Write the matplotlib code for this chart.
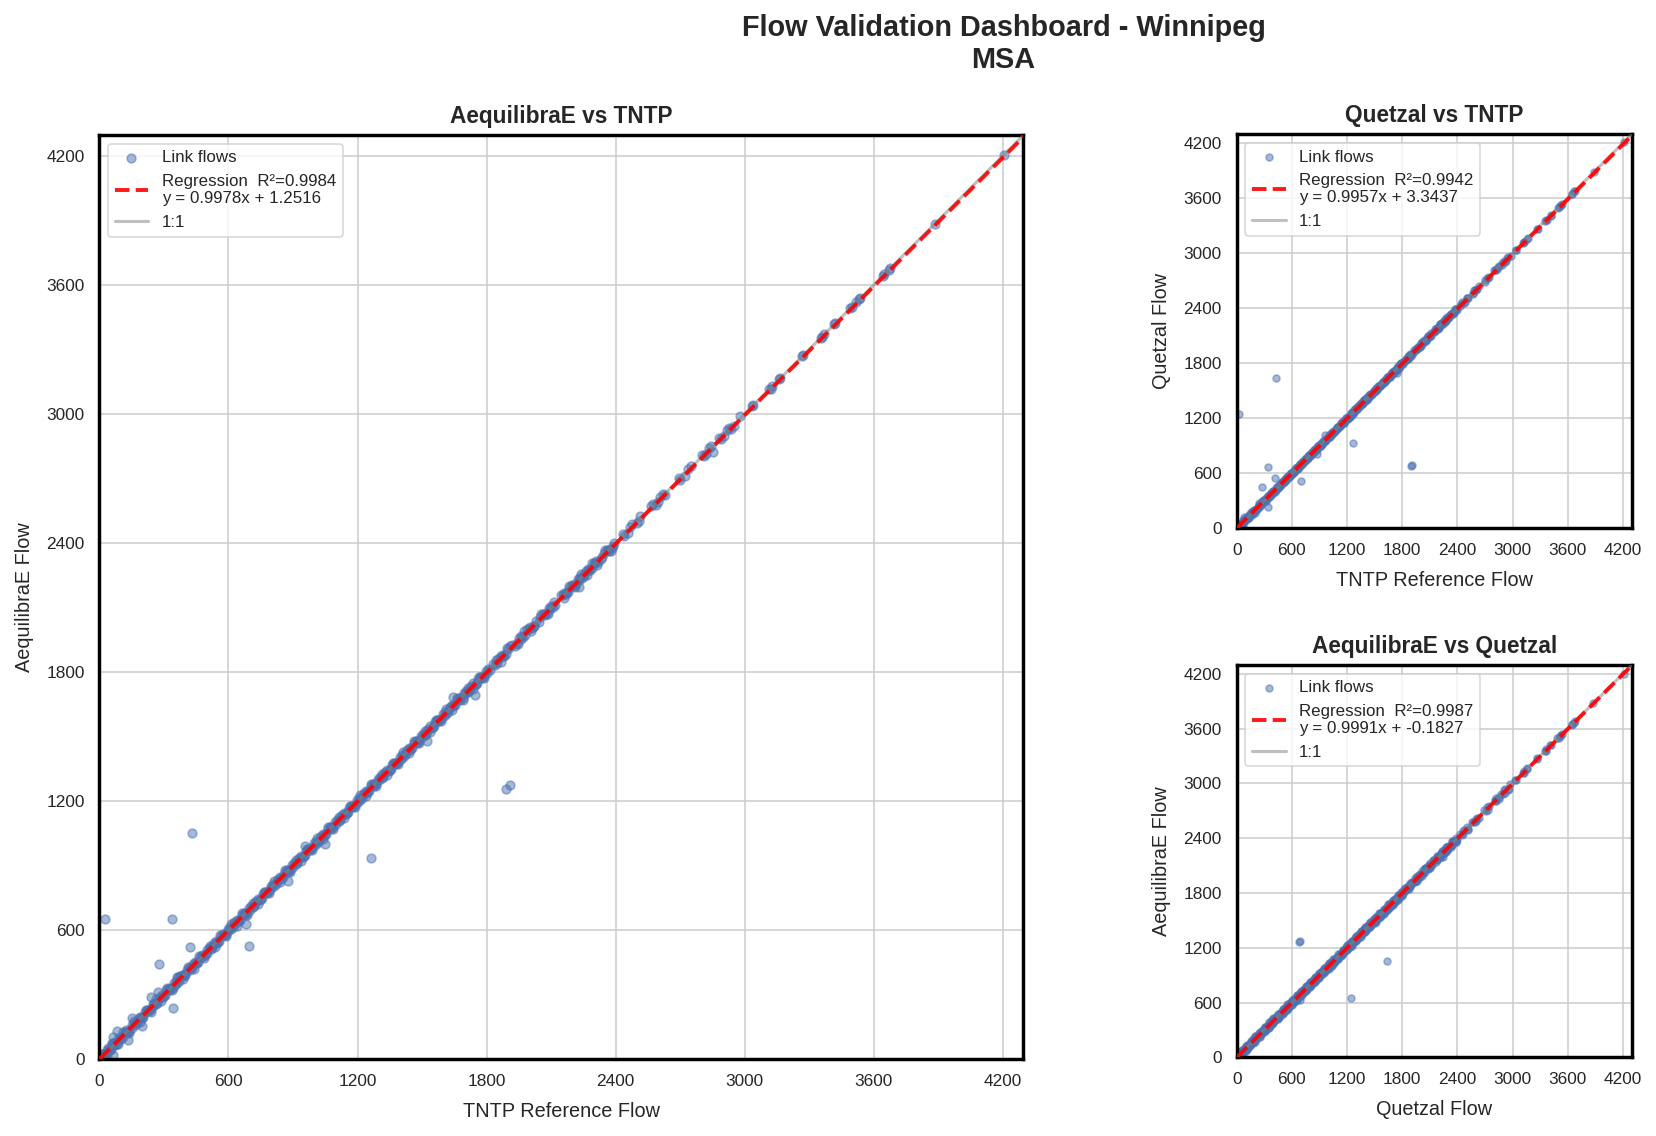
import numpy as np
import matplotlib
matplotlib.use('Agg')
import matplotlib.pyplot as plt
import seaborn as sns

# fluxos por ligacao (mesma ordem nos tres vetores)
tntp = [
    5, 12, 18, 30, 42, 55, 68, 80, 95, 110, 125, 140, 160, 175, 190, 205, 220, 240, 255, 270, 290, 305, 320, 340, 355, 370, 385, 400,
    415, 430, 445, 460, 478, 495, 510, 525, 540, 558, 575, 590, 605, 620, 638, 655, 670, 688, 705, 720, 738, 755, 770, 788,
    805, 820, 838, 855, 870, 888, 905, 920, 938, 955, 970, 988, 1005, 1020, 1038, 1055, 1070, 1088, 1105, 1120, 1138, 1155, 1170, 1188,
    1205, 1220, 1238, 1255, 1270, 1288, 1305, 1320, 1338, 1355, 1370, 1388, 1405, 1420, 1438, 1455, 1470, 1488, 1505, 1520, 1538, 1555,
    1570, 1588, 1605, 1620, 1638, 1655, 1670, 1688, 1705, 1720, 1738, 1755, 1770, 1790, 1805,
    1830, 1850, 1870, 1890, 1910, 1930, 1950, 1970, 1990, 2010, 2028, 2042, 2062, 2082, 2100, 2118, 2148, 2168, 2188, 2206, 2225,
    2244, 2262, 2282, 2300, 2320, 2345, 2370, 2392,
    2432, 2455, 2478, 2500, 2515, 2565, 2585, 2605, 2630, 2695, 2720, 2748, 2802, 2822, 2841, 2880, 2903, 2926, 2949, 2980,
    3034, 3112, 3128, 3158, 3266, 3352, 3370, 3413, 3491, 3515, 3537, 3642, 3677, 3882, 4207,
    8, 15, 24, 36, 48, 61, 74, 87, 102, 117, 132, 150, 167, 182, 197, 212, 230, 247, 262, 280, 297, 312, 330, 347, 362, 377, 392, 408,
    422, 437, 452, 468, 486, 502, 518, 532, 548, 566, 582, 598, 612, 628, 646, 662, 678, 696, 712, 728, 746, 762, 778, 796,
    812, 828, 846, 862, 878, 896, 912, 928, 946, 962, 978, 996, 1012, 1028, 1046, 1062, 1078, 1096, 1112, 1128, 1146, 1162, 1178, 1196,
    1212, 1228, 1246, 1262, 1278, 1296, 1312, 1328, 1346, 1362, 1378, 1396, 1412, 1428, 1446, 1462, 1478, 1496, 1512, 1528, 1546, 1562,
    1578, 1596, 1612, 1628, 1646, 1662, 1678, 1696, 1712, 1728, 1746, 1762, 1780, 1798, 1815,
    1838, 1860, 1880, 1900, 1940, 1960, 1980, 2000, 2020, 2050, 2072, 2090, 2110, 2158, 2178, 2196, 2216, 2235, 2254, 2272, 2292,
    2310, 2332, 2358, 2382,
    2440, 2468, 2508, 2575, 2595, 2618, 2700, 2735, 2810, 2832, 2890, 2915, 2938,
    3040, 3120, 3165, 3272, 3360, 3420, 3500, 3530, 3648, 3670,
    10, 35, 58, 85, 112, 138, 163, 188, 215, 238, 265, 288, 315, 338, 365, 388, 412, 438, 463, 488, 512, 538, 563, 588,
    612, 638, 663, 688, 712, 738, 763, 788, 812, 838, 863, 888, 912, 938, 963, 988, 1012, 1038, 1063, 1088, 1112, 1138,
    1163, 1188, 1212, 1238, 1263, 1288, 1312, 1338, 1363, 1388, 1412, 1438, 1463, 1488, 1512, 1538, 1563, 1588, 1612, 1638,
    1663, 1688, 1712, 1738, 1763, 1788, 1842, 1865, 1895, 1945, 1975, 2005, 2055, 2085, 2112, 2160, 2185, 2212, 2240, 2265,
    2290, 2315, 2350, 2378,
    22, 47, 70, 97, 124, 150, 175, 200, 227, 250, 277, 300, 327, 350, 377, 400, 424, 450, 475, 500, 524, 550, 575, 600,
    624, 650, 675, 700, 724, 750, 775, 800, 824, 850, 875, 900, 924, 950, 975, 1000, 1024, 1050, 1075, 1100, 1124, 1150,
    1175, 1200, 1224, 1250, 1275, 1300, 1324, 1350, 1375, 1400, 1424, 1450, 1475, 1500, 1524, 1550, 1575, 1600, 1624, 1650,
    1675, 1700, 1724, 1750, 1775, 1800, 1855, 1878, 1920, 1958, 1995, 2018, 2068, 2095, 2155, 2175, 2200, 2230, 2252, 2278,
    2305, 2338, 2365, 2388,
    25, 430, 336, 278, 420, 694, 343, 1262, 1892, 1909, 878, 956, 1745, 683, 1047, 1523, 1643,
    65, 80, 134, 153, 196, 240, 273, 65, 359, 2230, 2850,
]
aequilibrae = [
    14, 5, 27, 23, 51, 48, 77, 73, 104, 103, 134, 133, 169, 168, 199, 198, 229, 233, 264, 263, 299, 298, 329, 333, 364, 363, 394, 393,
    424, 423, 454, 453, 487, 488, 519, 518, 549, 551, 584, 583, 614, 613, 647, 648, 679, 681, 714, 713, 747, 748, 779, 781,
    814, 813, 847, 848, 879, 881, 914, 913, 947, 948, 979, 981, 1014, 1013, 1047, 1048, 1079, 1081, 1114, 1113, 1147, 1148, 1179, 1181,
    1214, 1213, 1247, 1248, 1279, 1281, 1314, 1313, 1347, 1348, 1379, 1381, 1414, 1413, 1447, 1448, 1479, 1481, 1514, 1513, 1547, 1548,
    1579, 1581, 1614, 1613, 1647, 1648, 1679, 1681, 1714, 1713, 1747, 1748, 1779, 1783, 1814,
    1839, 1843, 1879, 1883, 1919, 1923, 1959, 1963, 1999, 2003, 2037, 2035, 2071, 2075, 2109, 2111, 2157, 2161, 2197, 2199, 2234,
    2237, 2271, 2275, 2309, 2313, 2354, 2363, 2401,
    2441, 2448, 2487, 2493, 2524, 2574, 2578, 2614, 2623, 2704, 2713, 2757, 2811, 2815, 2850, 2889, 2896, 2935, 2942, 2989,
    3037, 3115, 3131, 3161, 3269, 3355, 3373, 3416, 3494, 3518, 3540, 3639, 3680, 3884, 4204,
    2, 23, 18, 44, 42, 69, 68, 95, 96, 125, 126, 158, 161, 190, 191, 220, 224, 255, 256, 288, 291, 320, 324, 355, 356, 385, 386, 416,
    416, 445, 446, 476, 480, 510, 512, 540, 542, 574, 576, 606, 606, 636, 640, 670, 672, 704, 706, 736, 740, 770, 772, 804,
    806, 836, 840, 870, 872, 904, 906, 936, 940, 970, 972, 1004, 1006, 1036, 1040, 1070, 1072, 1104, 1106, 1136, 1140, 1170, 1172, 1204,
    1206, 1236, 1240, 1270, 1272, 1304, 1306, 1336, 1340, 1370, 1372, 1404, 1406, 1436, 1440, 1470, 1472, 1504, 1506, 1536, 1540, 1570,
    1572, 1604, 1606, 1636, 1640, 1670, 1672, 1704, 1706, 1736, 1740, 1770, 1774, 1806, 1809,
    1832, 1868, 1874, 1908, 1934, 1968, 1974, 2008, 2014, 2058, 2066, 2098, 2104, 2166, 2172, 2204, 2210, 2243, 2248, 2280, 2286,
    2318, 2326, 2366, 2376,
    2434, 2476, 2502, 2583, 2589, 2626, 2694, 2743, 2804, 2840, 2884, 2923, 2932,
    3043, 3117, 3168, 3275, 3357, 3423, 3497, 3533, 3651, 3667,
    26, 19, 74, 69, 128, 122, 179, 172, 231, 222, 281, 272, 331, 322, 381, 372, 428, 422, 479, 472, 528, 522, 579, 572,
    628, 622, 679, 672, 728, 722, 779, 772, 828, 822, 879, 872, 928, 922, 979, 972, 1028, 1022, 1079, 1072, 1128, 1122,
    1179, 1172, 1228, 1222, 1279, 1272, 1328, 1322, 1379, 1372, 1428, 1422, 1479, 1472, 1528, 1522, 1579, 1572, 1628, 1622,
    1679, 1672, 1728, 1722, 1779, 1772, 1858, 1849, 1911, 1929, 1991, 1989, 2071, 2069, 2128, 2144, 2201, 2196, 2256, 2249,
    2306, 2299, 2366, 2362,
    26, 43, 74, 93, 128, 146, 179, 196, 231, 246, 281, 296, 331, 346, 381, 396, 428, 446, 479, 496, 528, 546, 579, 596,
    628, 646, 679, 696, 728, 746, 779, 796, 828, 846, 879, 896, 928, 946, 979, 996, 1028, 1046, 1079, 1096, 1128, 1146,
    1179, 1196, 1228, 1246, 1279, 1296, 1328, 1346, 1379, 1396, 1428, 1446, 1479, 1496, 1528, 1546, 1579, 1596, 1628, 1646,
    1679, 1696, 1728, 1746, 1779, 1796, 1859, 1874, 1924, 1954, 1999, 2014, 2072, 2091, 2159, 2171, 2204, 2226, 2256, 2274,
    2309, 2334, 2369, 2384,
    654, 1053, 650, 441, 524, 526, 237, 937, 1258, 1273, 829, 990, 1692, 628, 1002, 1479, 1683,
    102, 133, 90, 193, 155, 290, 314, 20, 383, 2196, 2825,
]
quetzal = [
    0, 22, 10, 40, 34, 65, 60, 90, 87, 120, 117, 150, 152, 185, 182, 215, 212, 250, 247, 280, 282, 315, 312, 350, 347, 380, 377, 410,
    407, 440, 437, 470, 470, 505, 502, 535, 532, 568, 567, 600, 597, 630, 630, 665, 662, 698, 697, 730, 730, 765, 762, 798,
    797, 830, 830, 865, 862, 898, 897, 930, 930, 965, 962, 998, 997, 1030, 1030, 1065, 1062, 1098, 1097, 1130, 1130, 1165, 1162, 1198,
    1197, 1230, 1230, 1265, 1262, 1298, 1297, 1330, 1330, 1365, 1362, 1398, 1397, 1430, 1430, 1465, 1462, 1498, 1497, 1530, 1530, 1565,
    1562, 1598, 1597, 1630, 1630, 1665, 1662, 1698, 1697, 1730, 1730, 1765, 1762, 1800, 1797,
    1822, 1860, 1862, 1900, 1902, 1940, 1942, 1980, 1982, 2020, 2020, 2052, 2054, 2092, 2092, 2128, 2140, 2178, 2180, 2216, 2217,
    2254, 2254, 2292, 2292, 2330, 2337, 2380, 2384,
    2424, 2465, 2470, 2510, 2507, 2557, 2595, 2597, 2640, 2687, 2730, 2740, 2812, 2814, 2851, 2872, 2913, 2918, 2959, 2972,
    3031, 3109, 3125, 3155, 3263, 3349, 3367, 3410, 3488, 3512, 3534, 3645, 3674, 3880, 4210,
    15, 6, 31, 27, 55, 52, 81, 78, 109, 108, 139, 141, 174, 173, 204, 203, 237, 238, 269, 271, 304, 303, 337, 338, 369, 368, 399, 399,
    429, 428, 459, 459, 493, 493, 525, 523, 555, 557, 589, 589, 619, 619, 653, 653, 685, 687, 719, 719, 753, 753, 785, 787,
    819, 819, 853, 853, 885, 887, 919, 919, 953, 953, 985, 987, 1019, 1019, 1053, 1053, 1085, 1087, 1119, 1119, 1153, 1153, 1185, 1187,
    1219, 1219, 1253, 1253, 1285, 1287, 1319, 1319, 1353, 1353, 1385, 1387, 1419, 1419, 1453, 1453, 1485, 1487, 1519, 1519, 1553, 1553,
    1585, 1587, 1619, 1619, 1653, 1653, 1685, 1687, 1719, 1719, 1753, 1753, 1787, 1789, 1822,
    1845, 1851, 1887, 1891, 1947, 1951, 1987, 1991, 2027, 2041, 2079, 2081, 2117, 2149, 2185, 2187, 2223, 2226, 2261, 2263, 2299,
    2301, 2339, 2349, 2389,
    2447, 2459, 2515, 2566, 2602, 2609, 2707, 2726, 2817, 2823, 2897, 2906, 2945,
    3037, 3123, 3162, 3269, 3363, 3417, 3503, 3527, 3645, 3673,
    0, 47, 46, 97, 100, 150, 151, 200, 203, 250, 253, 300, 303, 350, 353, 400, 400, 450, 451, 500, 500, 550, 551, 600,
    600, 650, 651, 700, 700, 750, 751, 800, 800, 850, 851, 900, 900, 950, 951, 1000, 1000, 1050, 1051, 1100, 1100, 1150,
    1151, 1200, 1200, 1250, 1251, 1300, 1300, 1350, 1351, 1400, 1400, 1450, 1451, 1500, 1500, 1550, 1551, 1600, 1600, 1650,
    1651, 1700, 1700, 1750, 1751, 1800, 1830, 1877, 1883, 1957, 1963, 2017, 2043, 2097, 2100, 2172, 2173, 2224, 2228, 2277,
    2278, 2327, 2338, 2390,
    17, 52, 65, 102, 119, 155, 170, 205, 222, 255, 272, 305, 322, 355, 372, 405, 419, 455, 470, 505, 519, 555, 570, 605,
    619, 655, 670, 705, 719, 755, 770, 805, 819, 855, 870, 905, 919, 955, 970, 1005, 1019, 1055, 1070, 1105, 1119, 1155,
    1170, 1205, 1219, 1255, 1270, 1305, 1319, 1355, 1370, 1405, 1419, 1455, 1470, 1505, 1519, 1555, 1570, 1605, 1619, 1655,
    1670, 1705, 1719, 1755, 1770, 1805, 1850, 1883, 1915, 1963, 1990, 2023, 2063, 2100, 2150, 2180, 2195, 2235, 2247, 2283,
    2300, 2343, 2360, 2393,
    1245, 1636, 665, 447, 545, 516, 229, 927, 682, 688, 807, 1018, 1698, 683, 1040, 1520, 1645,
    95, 120, 110, 180, 170, 280, 300, 40, 370, 2240, 2856,
]

# estatisticas da regressao (como aparecem na legenda)
r2_aeq_tntp, slope_aeq_tntp, inter_aeq_tntp = 0.9984, 0.9978, 1.2516
r2_qtz_tntp, slope_qtz_tntp, inter_qtz_tntp = 0.9942, 0.9957, 3.3437
r2_aeq_qtz, slope_aeq_qtz, inter_aeq_qtz = 0.9987, 0.9991, -0.1827

ticks = [0, 600, 1200, 1800, 2400, 3000, 3600, 4200]
LIM = 4295

sns.set_theme(style='whitegrid')
plt.rcParams['font.family'] = ['Liberation Sans', 'DejaVu Sans']

DPI = 112.5
fig = plt.figure(figsize=(1656 / DPI, 1136 / DPI), dpi=DPI)


def painel(ax, x, y, r2, slope, inter, xlabel, ylabel, titulo, tam):
    ax.scatter(x, y, s=tam, alpha=0.5, color='#4c72b0', label='Link flows', zorder=2)
    xs = np.array([0, LIM])
    ax.plot(xs, slope * xs + inter, '--', color='red', lw=2.5, alpha=0.9, zorder=4,
            label=f'Regression  R²={r2:.4f}\ny = {slope:.4f}x + {inter:.4f}')
    ax.plot(xs, xs, color='gray', alpha=0.5, lw=2, label='1:1', zorder=3)
    ax.set_xlim(0, LIM)
    ax.set_ylim(0, LIM)
    ax.set_xticks(ticks)
    ax.set_yticks(ticks)
    ax.tick_params(labelsize=11)
    ax.set_xlabel(xlabel, fontsize=12.7, labelpad=8)
    ax.set_ylabel(ylabel, fontsize=12.7, labelpad=8)
    ax.set_title(titulo, fontsize=14.5, fontweight='bold', pad=8)
    for sp in ax.spines.values():
        sp.set_color('black')
        sp.set_linewidth(2.2)
    ax.legend(loc='upper left', fontsize=10.8)


ax_main = fig.add_axes([0.0600, 0.0675, 0.5580, 0.8134])
ax_qt = fig.add_axes([0.7468, 0.5349, 0.2385, 0.3468])
ax_aq = fig.add_axes([0.7468, 0.0693, 0.2385, 0.3451])

painel(ax_main, tntp, aequilibrae, r2_aeq_tntp, slope_aeq_tntp, inter_aeq_tntp,
       'TNTP Reference Flow', 'AequilibraE Flow', 'AequilibraE vs TNTP', 32)
painel(ax_qt, tntp, quetzal, r2_qtz_tntp, slope_qtz_tntp, inter_qtz_tntp,
       'TNTP Reference Flow', 'Quetzal Flow', 'Quetzal vs TNTP', 20)
painel(ax_aq, quetzal, aequilibrae, r2_aeq_qtz, slope_aeq_qtz, inter_aeq_qtz,
       'Quetzal Flow', 'AequilibraE Flow', 'AequilibraE vs Quetzal', 20)

fig.suptitle('Flow Validation Dashboard - Winnipeg\nMSA', fontsize=18.5, fontweight='bold',
             x=0.606, y=0.988, va='top')

fig.savefig('out.png', dpi=DPI)
